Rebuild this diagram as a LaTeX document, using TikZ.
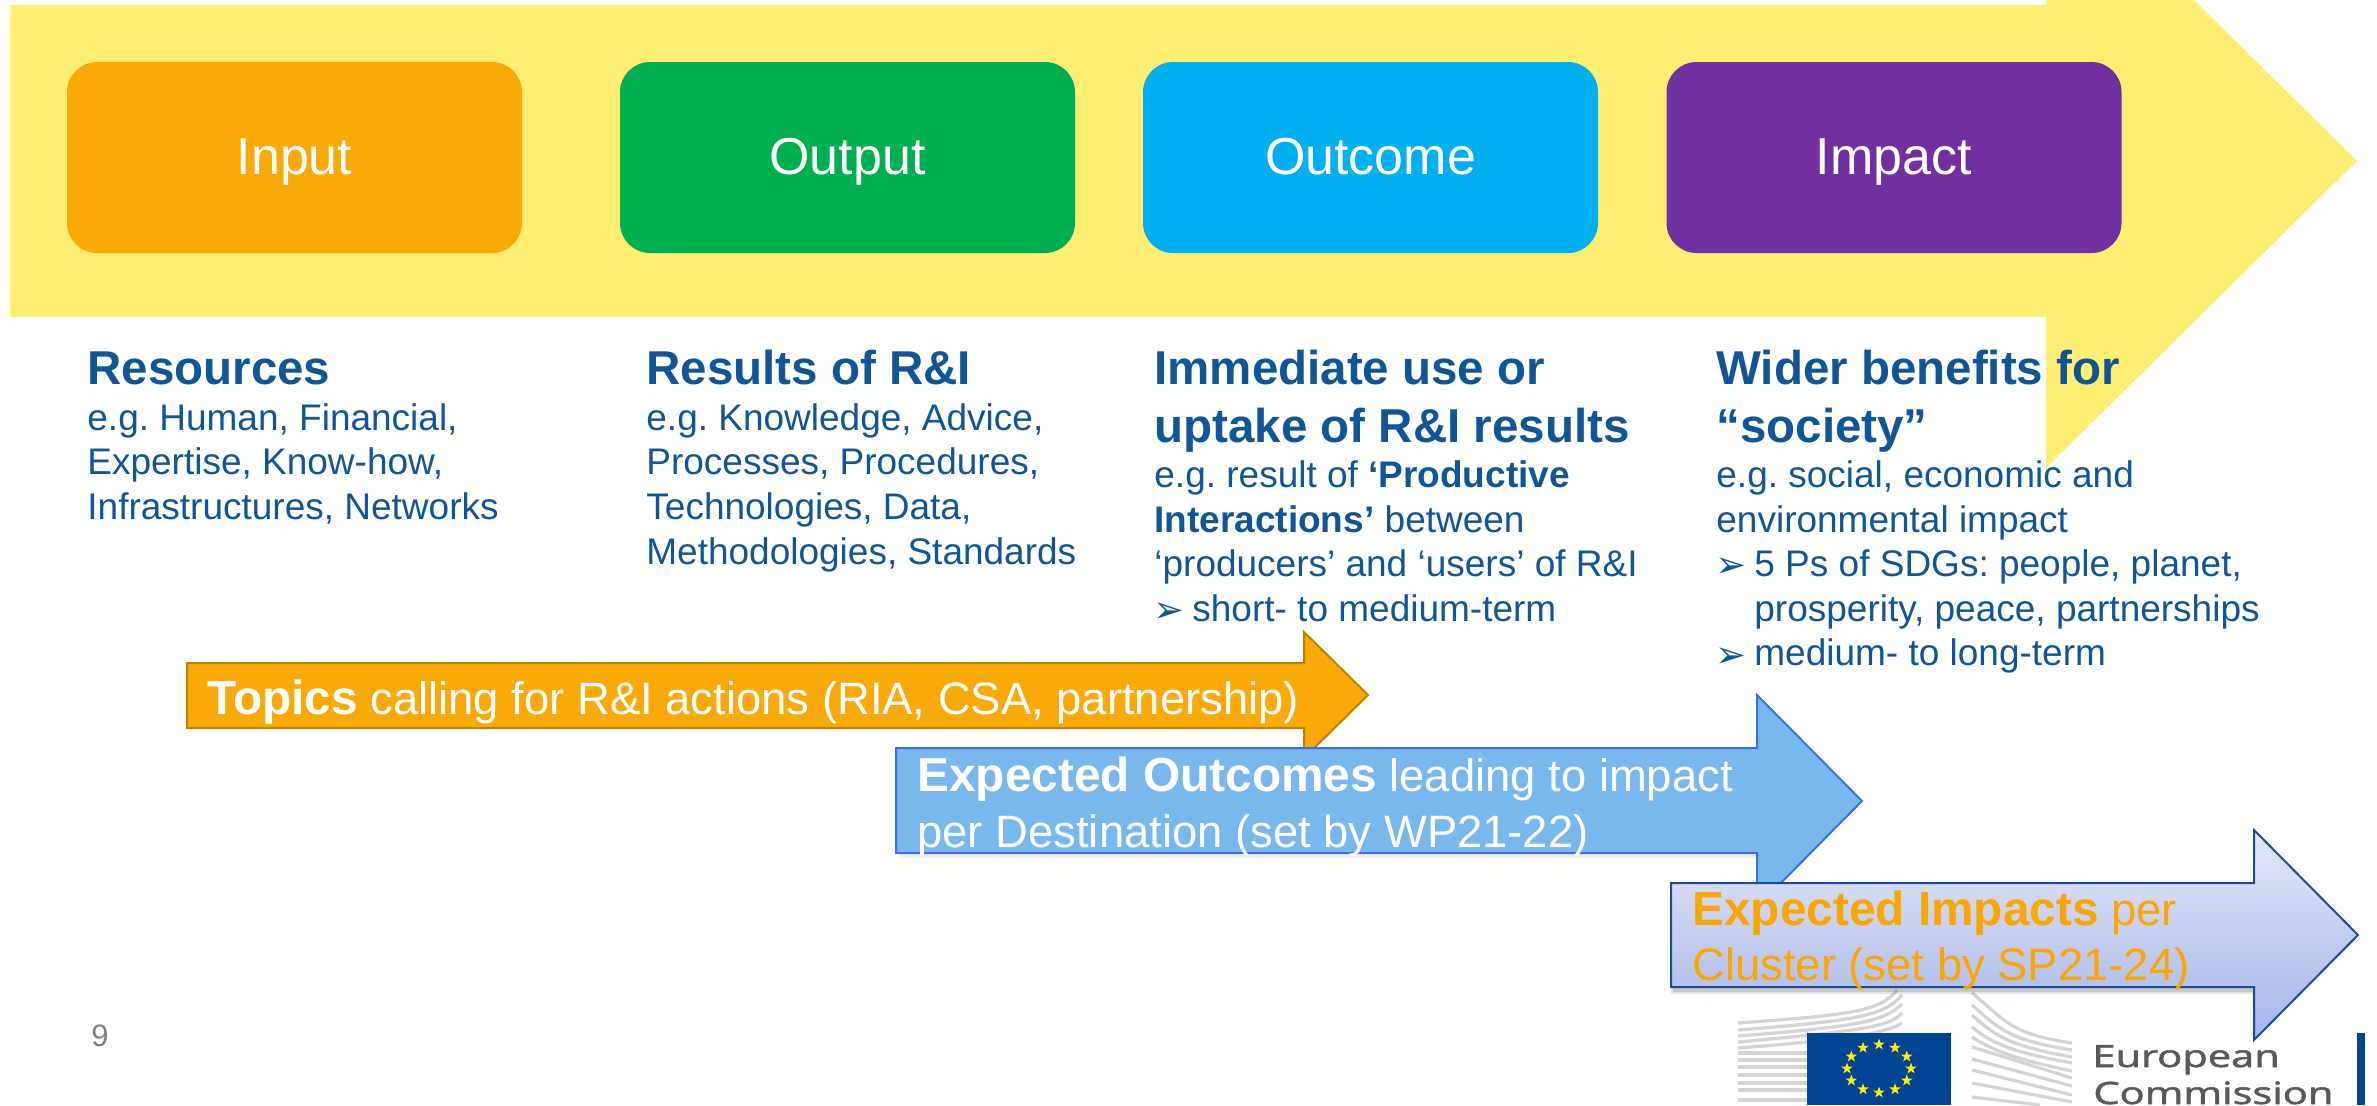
\documentclass[tikz,border=0pt]{standalone}
\usepackage{fontspec}
\setmainfont{Liberation Sans}
\newfontfamily\dingfont{DejaVu Sans}
\newfontfamily\logofont[FakeBold=1.6]{Open Sans}
\usetikzlibrary{shapes.geometric}
\definecolor{ylw}{HTML}{FFEE71}
\definecolor{cInput}{HTML}{F9A908}
\definecolor{cOutput}{HTML}{00B050}
\definecolor{cOutcome}{HTML}{00B0F0}
\definecolor{cImpact}{HTML}{7030A0}
\definecolor{txtblue}{HTML}{105596}
\definecolor{orEdge}{HTML}{BF8000}
\definecolor{blFill}{HTML}{78B8EC}
\definecolor{blEdge}{HTML}{3B6FE8}
\definecolor{imEdge}{HTML}{1C4A9C}
\definecolor{imTop}{HTML}{E4E8F8}
\definecolor{imBot}{HTML}{A6B4E8}
\definecolor{imTxt}{HTML}{FBA600}
\definecolor{eublue}{HTML}{004494}
\definecolor{eustar}{HTML}{FFED00}
\definecolor{bldg}{HTML}{D4D4D4}
\newcommand{\bul}{\makebox[19pt][l]{\hspace*{-0.5pt}\smash{\dingfont\fontsize{18.5}{18.5}\selectfont\raisebox{-0.6pt}{➢}}}}
\newcommand{\hd}{\fontsize{23.75}{29}\bfseries\selectfont}
\newcommand{\bd}{\fontsize{18.5}{22.3}\mdseries\selectfont}
\newcommand{\bigb}[1]{{\fontsize{23.9}{28}\bfseries\selectfont #1}}
\newcommand{\coltext}[1]{\parbox[t]{330pt}{\frenchspacing\raggedright\parindent=0pt\parskip=0pt #1}}
\tikzset{
  x=0.5pt,y=-0.5pt,
  stage/.style={rounded corners=15pt,inner sep=0pt,minimum width=227.5pt,minimum height=95.5pt,
    text=white,font=\fontsize{26}{26}\selectfont,text height=22.5pt,text depth=5.5pt},
  col/.style={anchor=base west,inner sep=0pt,text=txtblue},
  band/.style={anchor=base west,inner sep=0pt,font=\fontsize{22.7}{28}\selectfont},
}
\begin{document}
\begin{tikzpicture}
\useasboundingbox (0,0) rectangle (2377,1105);
% background arrow
\fill[ylw] (10,5) -- (2046,5) -- (2046,0) -- (2194,0) -- (2357,161) -- (2046,468) -- (2046,317) -- (10,317) -- cycle;
% stages
\node[stage,fill=cInput] (input) at (294.5,157.5) {Input};
\node[stage,fill=cOutput] (output) at (847.5,157.5) {Output};
\node[stage,fill=cOutcome] (outcome) at (1370.5,157.5) {Outcome};
\node[stage,fill=cImpact] (impact) at (1894,157.5) {Impact};
% columns
\node[col] (c1) at (87,384) {\coltext{\hd Resources\par\vspace{0.8pt}\bd e.g. Human, Financial,\\Expertise, Know-how,\\Infrastructures, Networks\par}};
\node[col] (c2) at (646,384) {\coltext{\hd Results of R\&I\par\vspace{0.8pt}\bd e.g. Knowledge, Advice,\\Processes, Procedures,\\Technologies, Data,\\Methodologies, Standards\par}};
\node[col] (c3) at (1154,384) {\coltext{\hd Immediate use or\\uptake of R\&I results\par\vspace{0.4pt}\bd e.g. result of \textbf{‘Productive}\\\textbf{Interactions’} between\\‘producers’ and ‘users’ of R\&I\\\bul short- to medium-term\par}};
\node[col] (c4) at (1716,384) {\coltext{\hd Wider benefits for\\“society”\par\vspace{0.4pt}\bd e.g. social, economic and\\environmental impact\\\bul 5 Ps of SDGs: people, planet,\\\hspace*{19pt}prosperity, peace, partnerships\\\bul medium- to long-term\par}};
% topics arrow
\draw[fill=cInput,draw=orEdge,line width=1pt] (187,663) -- (1304,663) -- (1304,632) -- (1368,695) -- (1304,758) -- (1304,728) -- (187,728) -- cycle;
\node[band,text=white] (topics) at (207,714) {\bigb{Topics} calling for R\&I actions (RIA, CSA, partnership)};
% outcomes arrow
\fill[black,opacity=.06] (899,752) -- (1761,752) -- (1761,858) -- (899,858) -- cycle;
\draw[fill=blFill,draw=blEdge,line width=1pt] (896,748) -- (1757,748) -- (1757,695) -- (1862,801) -- (1757,907) -- (1757,853) -- (896,853) -- cycle;
\node[band,text=white,align=left] (outcomes) at (917,791) {\parbox[t]{440pt}{\raggedright\fontsize{22.7}{28}\selectfont\bigb{Expected Outcomes} leading to impact\\per Destination (set by WP21-22)}};
% EC logo
\begin{scope}[bldg,line width=1.6pt]
\draw (1738,1023) .. controls (1847,1015) and (1880,1012) .. (1897,990);
\draw (1738,1030) .. controls (1853,1021) and (1885,1016) .. (1902,995);
\draw (1738,1036) .. controls (1867,1026) and (1885,1020) .. (1902,1004);
\draw (1738,1042) .. controls (1870,1030) and (1890,1026) .. (1902,1013);
\draw (1738,1048) .. controls (1840,1040) and (1885,1034) .. (1902,1023);
\foreach \yy in {1053,1060,1067,1075,1083,1090,1100}{\draw (1738,\yy) -- (1807,\yy);}
\draw (1972,993) .. controls (2005,1020) and (2010,1034) .. (2072,1043);
\draw (1972,1005) .. controls (2000,1030) and (2010,1040) .. (2072,1050);
\draw (1972,1015) .. controls (1995,1036) and (2010,1046) .. (2072,1057);
\draw (1972,1027) .. controls (1990,1042) and (2010,1052) .. (2072,1063);
\draw (1972,1037) .. controls (1995,1052) and (2020,1060) .. (2072,1071);
\draw (1972,1047) -- (2072,1078);
\draw (1972,1059) -- (2072,1086);
\draw (1972,1070) -- (2072,1095);
\draw (1972,1083) -- (2072,1102);
\draw (1972,1097) -- (2040,1105);
\end{scope}
\fill[eublue] (1807,1033) rectangle (1951,1105);
\foreach \i in {0,...,11}{
  \node[star,star points=5,star point ratio=2.5,fill=eustar,inner sep=0pt,minimum size=6pt] (st\i) at ({1879+32*cos(30*\i)},{1068.5+24*sin(30*\i)}) {};
}
\node[anchor=base west,inner sep=0pt,text=black!65] (ec1) at (2092,1067) {\scalebox{1.35}[1]{\logofont\fontsize{15.4}{15.4}\selectfont European}};
\node[anchor=base west,inner sep=0pt,text=black!65] (ec2) at (2093,1104) {\scalebox{1.35}[1]{\logofont\fontsize{15.4}{15.4}\selectfont Commission}};
\fill[eublue] (2357,1033) rectangle (2365,1105);
% impacts arrow
\fill[black,opacity=.13] (1673,892) -- (2256,892) -- (2256,992) -- (1673,992) -- cycle;
\fill[black,opacity=.10] (1671,892) -- (2256,892) -- (2256,994) -- (1671,994) -- cycle;
\draw[top color=imTop,bottom color=imBot,draw=imEdge,line width=1pt] (1671,883) -- (2254,883) -- (2254,830) -- (2358,935) -- (2254,1040) -- (2254,987) -- (1671,987) -- cycle;
\node[band,text=imTxt] (impacts) at (1692,925) {\parbox[t]{340pt}{\raggedright\fontsize{22.7}{27.5}\selectfont\bigb{Expected Impacts} per\\Cluster (set by SP21-24)}};
% page number
\node[anchor=base west,inner sep=0pt,text=black!50,font=\fontsize{15.5}{15.5}\selectfont] (pageno) at (91,1046) {9};
\end{tikzpicture}
\end{document}
